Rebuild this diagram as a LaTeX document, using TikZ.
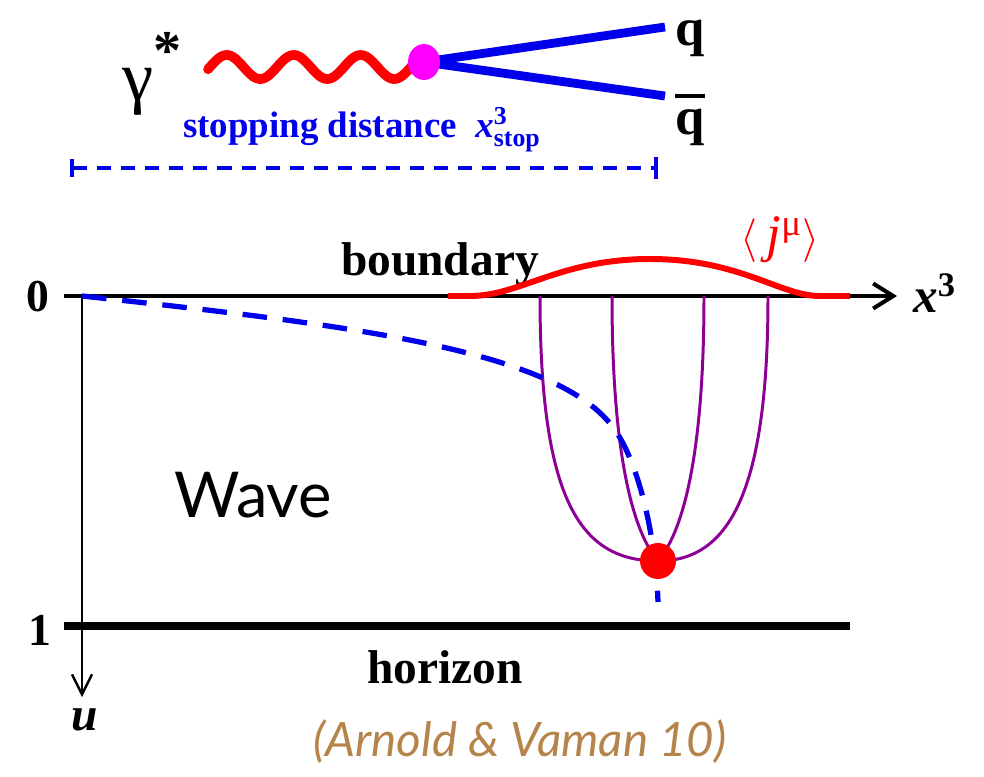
\documentclass[tikz,border=0pt]{standalone}
\usepackage{amsmath}
\usepackage{fontspec}
\setmainfont{Liberation Serif}
\newfontfamily\gillfont{Lato}
\usetikzlibrary{arrows.meta,shapes.geometric}

\definecolor{qblue}{RGB}{0,0,235}
\definecolor{lpurple}{RGB}{140,0,150}
\definecolor{citebrown}{RGB}{181,132,74}
\definecolor{vmagenta}{RGB}{255,0,255}
\newcommand{\fsz}[1]{\fontsize{#1}{#1}\selectfont}

\begin{document}
\begin{tikzpicture}[x=0.02cm, y=-0.02cm,
	axis/.style={line width=2.3pt},
	photon/.style={red, line width=5.5pt, line cap=round},
	quark/.style={qblue, line width=5pt},
	vertex/.style={ellipse, fill=vmagenta, minimum width=0.64cm, minimum height=0.72cm, inner sep=0pt},
	string/.style={lpurple, line width=1.7pt},
	lab/.style={font=\fsz{27}\bfseries, inner sep=0pt}]
	\useasboundingbox (0,0) rectangle (984,777);

	% Feynman picture on top
	\coordinate (v) at (424,62);
	\coordinate (qe1) at (665,27);
	\coordinate (qe2) at (665,96);
	\draw[quark] (v) -- (qe1);
	\draw[quark] (v) -- (qe2);
	\draw[photon] plot[domain=208:412, samples=120] (\x, {67-12*sin(5.3731*(\x-210))});
	\node[vertex] (vtx) at (v) {};
	\node[inner sep=0pt, font=\fsz{40}] (gam) at (152,74) {γ\raisebox{0.45em}{\fsz{32}\bfseries *}};
	\node[inner sep=0pt, font=\fsz{30}\bfseries] (q) at (690,38) {q};
	\node[inner sep=0pt, font=\fsz{30}\bfseries] (qbar) at (690,120)
		{\rlap{\raisebox{0.7em}{\rule{0.556em}{0.07em}}}q};
	\node[qblue, inner sep=0pt, font=\fsz{21}\bfseries] (stop) at (362,130)
		{stopping distance\ \ $\textit{x}^{\text{3}}_{\text{stop}}$};
	\coordinate (s0) at (70,168);
	\coordinate (s1) at (658,168);
	\draw[qblue, line width=2.3pt, dash pattern=on 8pt off 5.7pt,
		{Bar[width=0.36cm]}-{Bar[width=0.46cm]}] (s0) -- (s1);

	% Bulk: axes, boundary and horizon
	\coordinate (O) at (82,296);
	\coordinate (x0) at (64,296);
	\coordinate (xend) at (897,296);
	\coordinate (uend) at (82,697);
	\coordinate (h0) at (64,626);
	\coordinate (h1) at (850,626);
	\draw[axis, -{Straight Barb[length=0.4cm, width=0.5cm]}] (x0) -- (xend);
	\draw[line width=1.4pt, -{Straight Barb[length=0.4cm, width=0.4cm]}] (O) -- (uend);
	\draw[line width=4pt] (h0) -- (h1);

	\node[lab] (bnd) at (440,264) {boundary};
	\node[lab] (hor) at (445,667) {horizon};
	\node[lab, font=\fsz{26}\bfseries] (zero) at (38,297) {0};
	\node[lab, font=\fsz{26}\bfseries] (one) at (40,630) {1};
	\node[lab, font=\fsz{27}\bfseries\itshape] (ulab) at (85,720) {u};
	\node[lab, font=\fsz{28}\bfseries, anchor=west] (xlab) at (913,293) {\textit{x}\textsuperscript{3}};
	\node[red, inner sep=0pt, font=\fsz{30}] (jlab) at (780,240) {$\langle$\,\textit{j}\textsuperscript{μ}$\rangle$};
	\node[inner sep=0pt, font=\gillfont\fsz{36}] (wave) at (253,495) {Wave};
	\node[citebrown, inner sep=0pt, font=\gillfont\itshape\fsz{27}] (cite) at (520,742) {(Arnold \& Vaman 10)};

	% current on the boundary
	\draw[red, line width=3.4pt] (448,296) -- (470,296) .. controls (520,296) and (560,259) .. (650,259)
		.. controls (740,259) and (780,296) .. (820,296) -- (850,296);

	% strings falling from the source
	\coordinate (s) at (658,561);
	\coordinate (a1) at (540,296);
	\coordinate (a2) at (612,296);
	\coordinate (a3) at (704,296);
	\coordinate (a4) at (768,296);
	\draw[string] (a1) .. controls (540,500) and (580,561) .. (s);
	\draw[string] (a4) .. controls (768,490) and (730,561) .. (s);
	\draw[string] (a2) .. controls (612,480) and (640,540) .. (s);
	\draw[string] (a3) .. controls (704,480) and (676,540) .. (s);

	% trajectory of the stopping point
	\coordinate (tend) at (658,602);
	\draw[qblue, line width=3pt, dash pattern=on 14pt off 9pt] (O) .. controls (350,325) and (560,350) .. (615,430)
		.. controls (640,466) and (656,540) .. (tend);
	\node[circle, fill=red, minimum size=0.72cm, inner sep=0pt] (src) at (s) {};
\end{tikzpicture}
\end{document}
